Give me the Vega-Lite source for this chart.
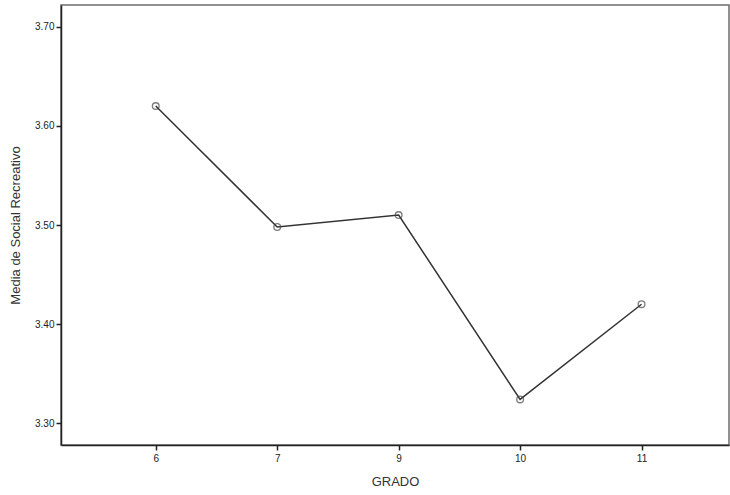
{
  "$schema": "https://vega.github.io/schema/vega-lite/v6.json",
  "width": 668,
  "height": 440,
  "autosize": {"type": "none"},
  "padding": {"left": 61, "top": 5, "right": 1, "bottom": 50},
  "background": "white",
  "config": {
    "font": "Liberation Sans",
    "view": {"stroke": "#6e6e6e", "strokeWidth": 1.5},
    "axis": {"grid": false, "domainColor": "#222222", "tickColor": "#222222", "labelColor": "#222222", "titleColor": "#333333", "labelFontSize": 10, "titleFontSize": 13, "titleFontWeight": "normal", "tickSize": 5, "domainWidth": 1.5, "tickWidth": 1.5}
  },
  "data": {"values": [
    {"GRADO": 6, "media": 3.620},
    {"GRADO": 7, "media": 3.498},
    {"GRADO": 9, "media": 3.510},
    {"GRADO": 10, "media": 3.324},
    {"GRADO": 11, "media": 3.420}
  ]},
  "encoding": {
    "x": {"field": "GRADO", "type": "ordinal", "scale": {"type": "point", "padding": 0.75, "align": 0.52}, "axis": {"title": "GRADO", "labelAngle": 0, "labelPadding": 3, "titlePadding": 12}},
    "y": {"field": "media", "type": "quantitative", "scale": {"domain": [3.278, 3.722], "nice": false, "zero": false}, "axis": {"title": "Media de Social Recreativo", "values": [3.3, 3.4, 3.5, 3.6, 3.7], "format": ".2f", "labelPadding": 2, "titlePadding": 12}}
  },
  "layer": [
    {"mark": {"type": "line", "color": "#333333", "strokeWidth": 1.5}},
    {"mark": {"type": "point", "shape": "circle", "filled": false, "color": "#444444", "size": 45, "strokeWidth": 1.3}}
  ]
}
